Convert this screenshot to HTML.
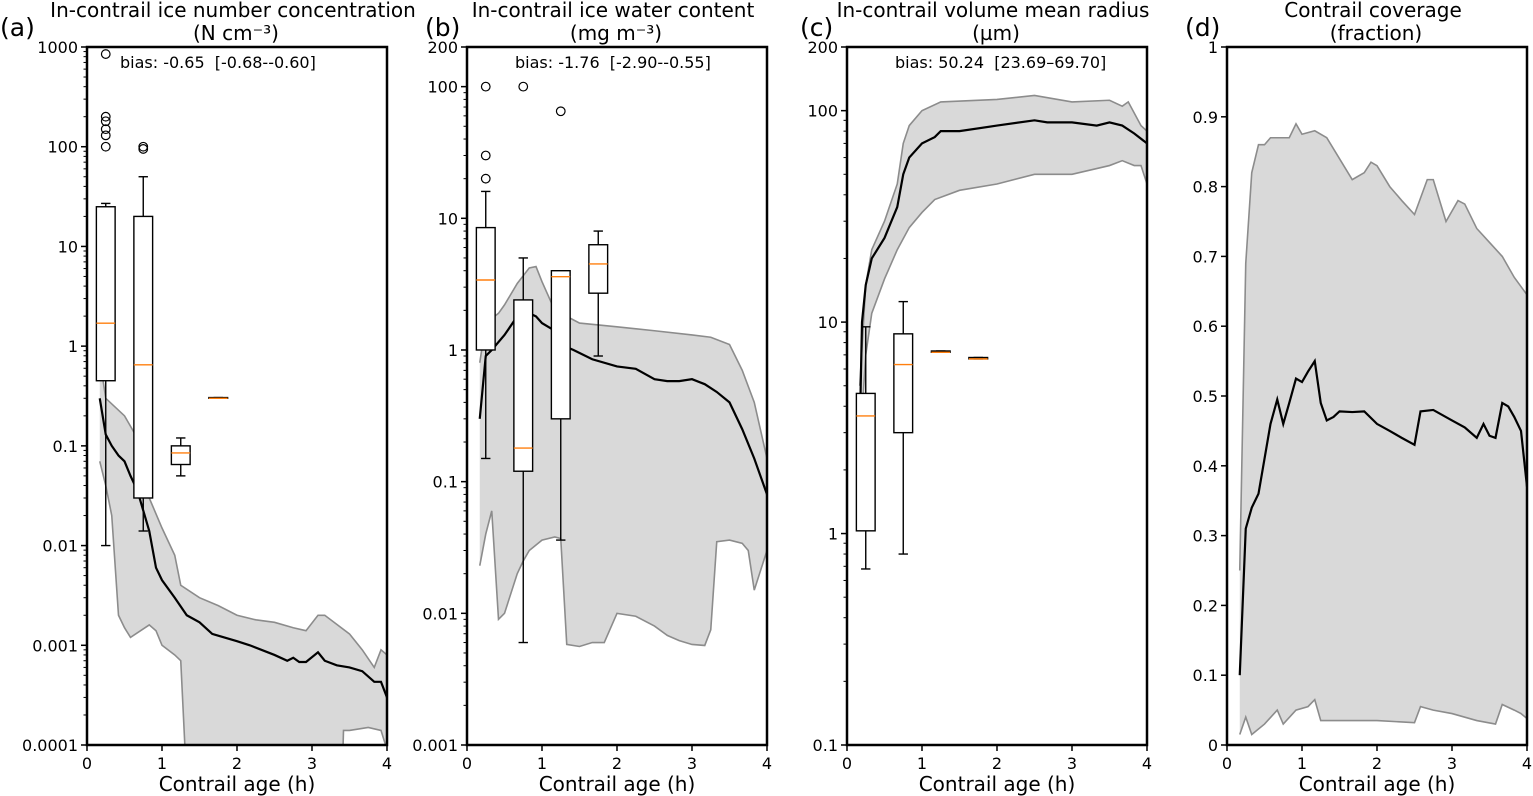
<!DOCTYPE html>
<html><head><meta charset="utf-8">
<style>
html,body{margin:0;padding:0;background:#fff;}
svg{display:block;font-family:"DejaVu Sans","Liberation Sans",sans-serif;}
</style></head>
<body>
<svg id="fig" width="1533" height="796" viewBox="0 0 1533 796" xmlns="http://www.w3.org/2000/svg"></svg>
<script>
// ---------- data ----------
const aMedian=[[0.17,0.3],[0.25,0.13],[0.33,0.1],[0.42,0.08],[0.5,0.07],[0.58,0.05],[0.67,0.036],[0.83,0.014],[0.92,0.006],[1.0,0.0045],[1.17,0.003],[1.33,0.002],[1.5,0.0017],[1.67,0.0013],[2.0,0.0011],[2.17,0.001],[2.5,0.0008],[2.67,0.0007],[2.75,0.00075],[2.83,0.00068],[2.92,0.00068],[3.08,0.00085],[3.17,0.0007],[3.33,0.00063],[3.5,0.0006],[3.67,0.00055],[3.83,0.00043],[3.92,0.00043],[4.0,0.0003]];
const aUpper=[[0.17,0.75],[0.25,0.3],[0.5,0.2],[0.67,0.12],[0.83,0.03],[1.0,0.015],[1.17,0.008],[1.25,0.004],[1.5,0.003],[1.75,0.0025],[2.0,0.002],[2.25,0.0018],[2.5,0.0017],[2.75,0.0015],[2.92,0.0014],[3.08,0.002],[3.17,0.002],[3.5,0.0013],[3.67,0.0009],[3.83,0.0006],[3.92,0.0009],[4.0,0.0008]];
const aLower=[[0.17,0.07],[0.25,0.04],[0.33,0.02],[0.42,0.002],[0.5,0.0015],[0.58,0.0012],[0.83,0.0016],[0.92,0.0014],[1.0,0.001],[1.17,0.0008],[1.25,0.0007],[1.33,0.00004],[3.4,0.00004],[3.42,0.00014],[3.5,0.00014],[3.75,0.00015],[3.92,0.00014],[4.0,0.00009]];
const aBoxes=[{x:0.25,lo:0.01,q1:0.45,med:1.7,q3:25,hi:27,fl:[100,130,150,180,200,850]},{x:0.75,lo:0.014,q1:0.03,med:0.65,q3:20,hi:50,fl:[95,100]},{x:1.25,lo:0.05,q1:0.065,med:0.085,q3:0.1,hi:0.12,fl:[]},{x:1.75,lo:0.3,q1:0.3,med:0.3,q3:0.305,hi:0.305,fl:[]}];
const bMedian=[[0.17,0.3],[0.25,0.9],[0.33,1.0],[0.5,1.3],[0.67,1.8],[0.75,2.0],[0.92,1.8],[1.0,1.6],[1.17,1.4],[1.25,1.1],[1.42,1.0],[1.67,0.85],[2.0,0.75],[2.25,0.72],[2.5,0.6],[2.67,0.58],[2.83,0.58],[3.0,0.6],[3.17,0.55],[3.33,0.48],[3.5,0.4],[3.67,0.25],[3.83,0.15],[4.0,0.08]];
const bUpper=[[0.17,0.8],[0.25,1.6],[0.42,1.9],[0.5,2.2],[0.67,3.2],[0.83,4.2],[0.92,4.3],[1.0,3.3],[1.17,2.0],[1.33,1.8],[1.5,1.6],[2.0,1.5],[2.5,1.4],[3.0,1.3],[3.25,1.25],[3.5,1.1],[3.67,0.7],[3.83,0.4],[4.0,0.15]];
const bLower=[[0.17,0.023],[0.25,0.04],[0.33,0.06],[0.42,0.009],[0.5,0.01],[0.67,0.02],[0.75,0.025],[0.83,0.03],[1.0,0.036],[1.17,0.038],[1.25,0.037],[1.33,0.0058],[1.5,0.0056],[1.67,0.006],[1.83,0.006],[2.0,0.01],[2.25,0.0095],[2.5,0.008],[2.67,0.0068],[2.83,0.0062],[3.0,0.0058],[3.17,0.0057],[3.25,0.0075],[3.33,0.035],[3.5,0.036],[3.67,0.034],[3.75,0.03],[3.83,0.015],[4.0,0.03]];
const bBoxes=[{x:0.25,lo:0.15,q1:1.0,med:3.4,q3:8.5,hi:16,fl:[20,30,100]},{x:0.75,lo:0.006,q1:0.12,med:0.18,q3:2.4,hi:5,fl:[100]},{x:1.25,lo:0.036,q1:0.3,med:3.6,q3:4.0,hi:4.0,fl:[65]},{x:1.75,lo:0.9,q1:2.7,med:4.5,q3:6.3,hi:8,fl:[]}];
const cMedian=[[0.17,3],[0.2,10],[0.25,15],[0.33,20],[0.5,25],[0.67,35],[0.75,50],[0.83,60],[1.0,70],[1.17,75],[1.25,80],[1.5,80],[2.0,85],[2.5,90],[2.67,88],[3.0,88],[3.33,85],[3.5,88],[3.67,85],[3.83,78],[4.0,70]];
const cUpper=[[0.17,5],[0.25,15],[0.33,22],[0.5,30],[0.67,45],[0.75,70],[0.83,85],[1.0,100],[1.25,110],[2.0,113],[2.5,118],[3.0,110],[3.5,112],[3.67,105],[3.75,110],[3.92,85],[4.0,80]];
const cLower=[[0.17,2.5],[0.25,7],[0.33,11],[0.5,16],[0.67,22],[0.83,28],[1.0,33],[1.17,38],[1.5,42],[2.0,45],[2.5,50],[3.0,50],[3.5,55],[3.67,58],[3.83,55],[3.92,55],[4.0,45]];
const cBoxes=[{x:0.25,lo:0.68,q1:1.03,med:3.6,q3:4.6,hi:9.5,fl:[]},{x:0.75,lo:0.8,q1:3.0,med:6.3,q3:8.8,hi:12.5,fl:[]},{x:1.25,lo:7.2,q1:7.2,med:7.2,q3:7.3,hi:7.3,fl:[]},{x:1.75,lo:6.7,q1:6.7,med:6.7,q3:6.8,hi:6.8,fl:[]}];
const dMedian=[[0.17,0.1],[0.25,0.31],[0.33,0.34],[0.42,0.36],[0.5,0.41],[0.58,0.46],[0.67,0.495],[0.75,0.46],[0.83,0.49],[0.92,0.525],[1.0,0.52],[1.08,0.535],[1.17,0.55],[1.25,0.49],[1.33,0.465],[1.42,0.47],[1.5,0.478],[1.67,0.477],[1.83,0.478],[2.0,0.46],[2.17,0.45],[2.33,0.44],[2.5,0.43],[2.58,0.478],[2.75,0.48],[3.0,0.465],[3.17,0.455],[3.33,0.44],[3.42,0.46],[3.5,0.443],[3.58,0.44],[3.67,0.49],[3.75,0.485],[3.83,0.47],[3.92,0.45],[4.0,0.37]];
const dUpper=[[0.17,0.25],[0.25,0.69],[0.33,0.82],[0.42,0.86],[0.5,0.86],[0.58,0.87],[0.83,0.87],[0.92,0.89],[1.0,0.875],[1.17,0.88],[1.33,0.87],[1.5,0.84],[1.67,0.81],[1.83,0.82],[1.92,0.835],[2.0,0.83],[2.17,0.8],[2.33,0.78],[2.5,0.76],[2.67,0.81],[2.75,0.81],[2.92,0.75],[3.08,0.78],[3.17,0.775],[3.33,0.74],[3.5,0.72],[3.67,0.70],[3.83,0.67],[4.0,0.645]];
const dLower=[[0.17,0.015],[0.25,0.04],[0.33,0.015],[0.5,0.03],[0.67,0.05],[0.75,0.03],[0.92,0.05],[1.08,0.055],[1.17,0.065],[1.25,0.035],[1.5,0.035],[2.0,0.035],[2.5,0.032],[2.58,0.055],[2.75,0.05],[3.0,0.045],[3.33,0.035],[3.58,0.03],[3.67,0.058],[3.83,0.05],[3.92,0.045],[4.0,0.038]];
const xTicks=[0,1,2,3,4];
const aYTicks=[1000,100,10,1,0.1,0.01,0.001,0.0001];
const bYTicks=[200,100,10,1,0.1,0.01,0.001];
const cYTicks=[200,100,10,1,0.1];
const dYTicks=[0,0.1,0.2,0.3,0.4,0.5,0.6,0.7,0.8,0.9,1];

// ---------- drawing ----------
const NS="http://www.w3.org/2000/svg";
const svg=document.getElementById('fig');
function mk(tag,attrs,parent,txt){const e=document.createElementNS(NS,tag);for(const k in attrs)e.setAttribute(k,attrs[k]);if(txt!==undefined)e.textContent=txt;(parent||svg).appendChild(e);return e;}
const TOP=47,BOT=745,W=300;
const panels=[
 {id:'a',left:87,lx:0,log:true,ymin:1e-4,ymax:1e3,ticks:aYTicks,med:aMedian,up:aUpper,lo:aLower,boxes:aBoxes,t1:'In-contrail ice number concentration',t2:'(N cm\u207B\u00B3)',bias:'bias: -0.65\u00A0\u00A0[-0.68--0.60]'},
 {id:'b',left:467,lx:425,log:true,ymin:1e-3,ymax:200,ticks:bYTicks,med:bMedian,up:bUpper,lo:bLower,boxes:bBoxes,t1:'In-contrail ice water content',t2:'(mg m\u207B\u00B3)',bias:'bias: -1.76\u00A0\u00A0[-2.90--0.55]'},
 {id:'c',left:847,lx:800,log:true,ymin:0.1,ymax:200,ticks:cYTicks,med:cMedian,up:cUpper,lo:cLower,boxes:cBoxes,t1:'In-contrail volume mean radius',t2:'(\u00B5m)',bias:'bias: 50.24\u00A0\u00A0[23.69\u201369.70]'},
 {id:'d',left:1227,lx:1185,log:false,ymin:0,ymax:1,ticks:dYTicks,med:dMedian,up:dUpper,lo:dLower,boxes:[],t1:'Contrail coverage',t2:'(fraction)',bias:null}
];
panels.forEach(p=>{
  const g=mk('g',{});
  
  
  const sx=x=>p.left+x/4*W;
  const sy=v=>{ if(p.log){const lv=Math.log10(Math.max(v,1e-12));return BOT-(lv-Math.log10(p.ymin))/(Math.log10(p.ymax)-Math.log10(p.ymin))*(BOT-TOP);} return BOT-(v-p.ymin)/(p.ymax-p.ymin)*(BOT-TOP);};
  const clipId='clip'+p.id;
  const defs=mk('defs',{},g);const cp=mk('clipPath',{id:clipId},defs);mk('rect',{x:p.left,y:TOP,width:W,height:BOT-TOP},cp);
  const plot=mk('g',{'clip-path':'url(#'+clipId+')'},g);
  const pts=p.up.map(d=>sx(d[0])+','+sy(d[1])).concat(p.lo.slice().reverse().map(d=>sx(d[0])+','+sy(d[1])));
  const band=mk('polygon',{points:pts.join(' '),fill:'#d9d9d9',stroke:'none'},plot);
  
  
  const up=mk('polyline',{points:p.up.map(d=>sx(d[0])+','+sy(d[1])).join(' '),fill:'none',stroke:'#8c8c8c','stroke-width':1.6},plot);
  
  
  const lo=mk('polyline',{points:p.lo.map(d=>sx(d[0])+','+sy(d[1])).join(' '),fill:'none',stroke:'#8c8c8c','stroke-width':1.6},plot);
  
  
  const med=mk('polyline',{points:p.med.map(d=>sx(d[0])+','+sy(d[1])).join(' '),fill:'none',stroke:'#000','stroke-width':2.2},plot);
  
  
  p.boxes.forEach((b,i)=>{
    const bg=mk('g',{},plot);
    
    
    const cx=sx(b.x),hw=W/4*0.125,cw=hw/2;
    const st={stroke:'#000','stroke-width':1.4,fill:'none'};
    mk('line',Object.assign({x1:cx,x2:cx,y1:sy(b.q1),y2:sy(b.lo)},st),bg);
    mk('line',Object.assign({x1:cx,x2:cx,y1:sy(b.q3),y2:sy(b.hi)},st),bg);
    mk('line',Object.assign({x1:cx-cw,x2:cx+cw,y1:sy(b.lo),y2:sy(b.lo)},st),bg);
    mk('line',Object.assign({x1:cx-cw,x2:cx+cw,y1:sy(b.hi),y2:sy(b.hi)},st),bg);
    mk('rect',Object.assign({x:cx-hw,y:sy(b.q3),width:2*hw,height:Math.max(0.5,sy(b.q1)-sy(b.q3))},st,{fill:'#fff'}),bg);
    mk('line',{x1:cx-hw,x2:cx+hw,y1:sy(b.med),y2:sy(b.med),stroke:'#ff7f0e','stroke-width':1.4},bg);
    b.fl.forEach(f=>mk('circle',{cx:cx,cy:sy(f),r:4.3,fill:'none',stroke:'#000','stroke-width':1.2},bg));
  });
  const fr=mk('rect',{x:p.left,y:TOP,width:W,height:BOT-TOP,fill:'none',stroke:'#000','stroke-width':2.5},g);
  
  
  p.ticks.forEach(t=>{
    const y=sy(t);
    mk('line',{x1:p.left-6,x2:p.left,y1:y,y2:y,stroke:'#000','stroke-width':1.5},g);
    const lab=mk('text',{x:p.left-9,y:y+6,'text-anchor':'end','font-size':16},g,String(t));
    
    
  });
  if(p.log){
    for(let e=Math.floor(Math.log10(p.ymin));e<Math.log10(p.ymax);e++){
      for(let m=2;m<=9;m++){const v=m*Math.pow(10,e);if(v>p.ymin&&v<p.ymax){const y=sy(v);mk('line',{x1:p.left-3.5,x2:p.left,y1:y,y2:y,stroke:'#000','stroke-width':1},g);}}
    }
  }
  xTicks.forEach(t=>{
    const x=sx(t);
    mk('line',{x1:x,x2:x,y1:BOT,y2:BOT+6,stroke:'#000','stroke-width':1.5},g);
    const lab=mk('text',{x:x,y:BOT+24,'text-anchor':'middle','font-size':16},g,String(t));
    
    
  });
  const xl=mk('text',{x:p.left+W/2,y:791,'text-anchor':'middle','font-size':20},g,'Contrail age (h)');
  
  
  const t1=mk('text',{x:p.left+W/2-4,y:17,'text-anchor':'middle','font-size':20},g,p.t1);
  
  
  const t2=mk('text',{x:p.left+W/2-1,y:40,'text-anchor':'middle','font-size':20},g,p.t2);
  
  
  const pl=mk('text',{x:p.lx,y:36,'font-size':25},g,'('+p.id+')');
  
  
  if(p.bias){
    const bt=mk('text',{x:p.id==='a'?p.left+33:p.left+48,y:68,'font-size':16},g,p.bias);
    
    
  }
});
</script>
</body></html>
